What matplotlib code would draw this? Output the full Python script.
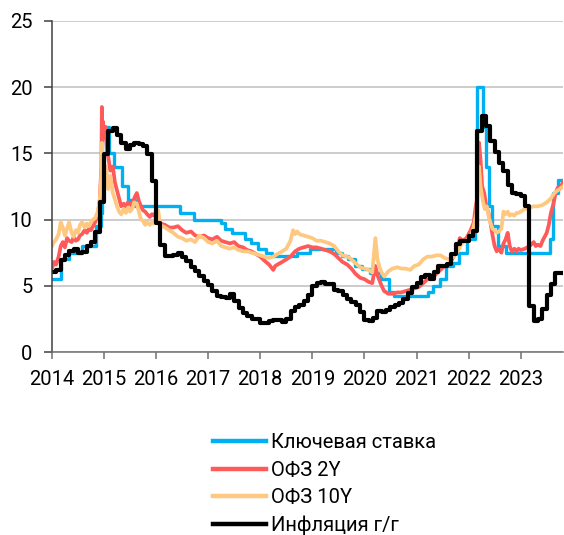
import numpy as np
import matplotlib
matplotlib.use("Agg")
import matplotlib.pyplot as plt

plt.rcParams['font.family'] = ['Roboto', 'DejaVu Sans']

# data (decimal years)
END = 2023.81

key_t = [2014.00, 2014.17, 2014.32, 2014.57, 2014.85, 2014.95, 2014.96, 2015.09, 2015.20,
         2015.34, 2015.46, 2015.59, 2016.45, 2016.72, 2017.24, 2017.33, 2017.46, 2017.71,
         2017.83, 2017.96, 2018.12, 2018.23, 2018.71, 2018.96, 2019.46, 2019.57, 2019.69,
         2019.82, 2019.96, 2020.11, 2020.32, 2020.47, 2020.57, 2021.22, 2021.32, 2021.45,
         2021.57, 2021.70, 2021.82, 2021.97, 2022.12, 2022.16, 2022.28, 2022.34, 2022.40,
         2022.45, 2022.57, 2022.72, 2023.56, 2023.62, 2023.72]
key_v = [5.5, 7.0, 7.5, 8.0, 9.5, 10.5, 17.0, 15.0, 14.0,
         12.5, 11.5, 11.0, 10.5, 10.0, 9.75, 9.25, 9.0, 8.5,
         8.25, 7.75, 7.5, 7.25, 7.5, 7.75, 7.5, 7.25, 7.0,
         6.5, 6.25, 6.0, 5.5, 4.5, 4.25, 4.5, 5.0, 5.5,
         6.5, 6.75, 7.5, 8.5, 9.5, 20.0, 17.0, 14.0, 11.0,
         9.5, 8.0, 7.5, 8.5, 12.0, 13.0]

ofz2_t = [2014.00, 2014.04, 2014.08, 2014.13, 2014.17, 2014.21, 2014.25, 2014.29, 2014.33,
          2014.38, 2014.42, 2014.46, 2014.50, 2014.54, 2014.58, 2014.63, 2014.67, 2014.71,
          2014.75, 2014.79, 2014.83, 2014.88, 2014.92, 2014.95, 2014.96, 2014.97, 2014.98,
          2015.00, 2015.03, 2015.06, 2015.08, 2015.12, 2015.17, 2015.21, 2015.25, 2015.29,
          2015.33, 2015.38, 2015.42, 2015.46, 2015.50, 2015.54, 2015.58, 2015.63, 2015.67,
          2015.71, 2015.75, 2015.79, 2015.83, 2015.88, 2015.92, 2015.96, 2016.00, 2016.04,
          2016.08, 2016.17, 2016.25, 2016.33, 2016.42, 2016.50, 2016.58, 2016.67, 2016.75,
          2016.83, 2016.92, 2017.00, 2017.08, 2017.17, 2017.25, 2017.33, 2017.42, 2017.50,
          2017.58, 2017.67, 2017.75, 2017.83, 2017.92, 2018.00, 2018.08, 2018.17, 2018.25,
          2018.29, 2018.33, 2018.42, 2018.50, 2018.58, 2018.67, 2018.75, 2018.83, 2018.92,
          2019.00, 2019.08, 2019.17, 2019.25, 2019.33, 2019.42, 2019.50, 2019.58, 2019.67,
          2019.75, 2019.83, 2019.92, 2020.00, 2020.08, 2020.15, 2020.21, 2020.25, 2020.33,
          2020.38, 2020.46, 2020.54, 2020.63, 2020.71, 2020.79, 2020.88, 2020.96, 2021.04,
          2021.13, 2021.21, 2021.29, 2021.38, 2021.46, 2021.54, 2021.63, 2021.71, 2021.79,
          2021.83, 2021.88, 2021.96, 2022.04, 2022.10, 2022.13, 2022.16, 2022.20, 2022.23,
          2022.26, 2022.30, 2022.34, 2022.38, 2022.42, 2022.46, 2022.50, 2022.54, 2022.58,
          2022.63, 2022.67, 2022.71, 2022.75, 2022.79, 2022.83, 2022.88, 2022.92, 2022.96,
          2023.00, 2023.08, 2023.17, 2023.25, 2023.29, 2023.33, 2023.38, 2023.42, 2023.50,
          2023.54, 2023.58, 2023.63, 2023.67, 2023.71, 2023.75, 2023.81]
ofz2_v = [6.3, 6.8, 6.6, 7.2, 8.0, 8.3, 7.9, 8.6, 8.4,
          8.3, 8.7, 8.4, 8.5, 8.8, 8.9, 9.2, 9.0, 9.3,
          9.2, 9.5, 9.8, 10.3, 11.5, 14.0, 18.5, 16.0, 17.4,
          16.5, 17.0, 15.0, 14.8, 13.7, 14.0, 12.8, 12.2, 11.6,
          11.0, 11.2, 10.9, 11.3, 11.2, 11.0, 11.6, 12.0, 11.4,
          11.0, 10.7, 10.6, 10.4, 10.2, 10.4, 10.3, 10.6, 10.2,
          9.7, 9.6, 9.4, 9.4, 9.5, 9.2, 9.0, 9.1, 8.8,
          8.7, 8.8, 8.6, 8.5, 8.7, 8.4, 8.3, 8.2, 8.3,
          8.0, 7.9, 7.7, 7.6, 7.4, 7.2, 6.9, 6.6, 6.2,
          6.5, 6.6, 6.8, 7.0, 7.2, 7.6, 7.8, 7.9, 8.0,
          7.9, 7.9, 7.8, 7.7, 7.6, 7.4, 7.1, 6.8, 6.6,
          6.3, 5.9, 5.6, 5.5, 5.3, 5.2, 6.5, 5.8, 5.0,
          4.6, 4.4, 4.4, 4.5, 4.5, 4.6, 4.7, 4.8, 4.9,
          5.2, 5.5, 5.5, 5.9, 6.2, 6.5, 6.6, 7.2, 7.7,
          8.6, 8.4, 8.6, 9.2, 9.8, 10.8, 11.5, 15.8, 14.5,
          12.5, 12.0, 11.0, 10.5, 9.8, 8.8, 8.0, 7.6, 7.8,
          7.5, 8.2, 8.5, 9.0, 8.0, 7.6, 7.8, 7.6, 7.8,
          7.7, 7.8, 8.0, 8.3, 8.0, 8.1, 8.0, 8.4, 9.0,
          9.6, 10.5, 11.2, 12.0, 12.4, 12.3, 12.8]

ofz10_t = [2014.00, 2014.04, 2014.08, 2014.13, 2014.17, 2014.21, 2014.25, 2014.29, 2014.33,
           2014.38, 2014.42, 2014.46, 2014.50, 2014.54, 2014.58, 2014.63, 2014.67, 2014.71,
           2014.75, 2014.79, 2014.83, 2014.88, 2014.92, 2014.95, 2014.96, 2014.98, 2015.00,
           2015.04, 2015.08, 2015.12, 2015.17, 2015.21, 2015.25, 2015.29, 2015.33, 2015.38,
           2015.42, 2015.46, 2015.50, 2015.54, 2015.58, 2015.63, 2015.67, 2015.71, 2015.75,
           2015.79, 2015.83, 2015.88, 2015.92, 2015.96, 2016.00, 2016.04, 2016.08, 2016.17,
           2016.25, 2016.33, 2016.42, 2016.50, 2016.58, 2016.67, 2016.75, 2016.83, 2016.92,
           2017.00, 2017.08, 2017.17, 2017.25, 2017.33, 2017.42, 2017.50, 2017.58, 2017.67,
           2017.75, 2017.83, 2017.92, 2018.00, 2018.08, 2018.17, 2018.25, 2018.33, 2018.42,
           2018.50, 2018.58, 2018.63, 2018.67, 2018.71, 2018.75, 2018.83, 2018.92, 2019.00,
           2019.08, 2019.17, 2019.25, 2019.33, 2019.42, 2019.50, 2019.58, 2019.67, 2019.75,
           2019.83, 2019.92, 2020.00, 2020.08, 2020.15, 2020.21, 2020.25, 2020.29, 2020.33,
           2020.38, 2020.46, 2020.54, 2020.63, 2020.71, 2020.79, 2020.88, 2020.96, 2021.04,
           2021.13, 2021.21, 2021.29, 2021.38, 2021.46, 2021.54, 2021.63, 2021.71, 2021.79,
           2021.88, 2021.96, 2022.04, 2022.10, 2022.15, 2022.20, 2022.23, 2022.27, 2022.31,
           2022.35, 2022.40, 2022.46, 2022.50, 2022.54, 2022.58, 2022.63, 2022.67, 2022.71,
           2022.75, 2022.79, 2022.83, 2022.88, 2022.92, 2022.96, 2023.00, 2023.08, 2023.17,
           2023.25, 2023.33, 2023.42, 2023.50, 2023.58, 2023.63, 2023.67, 2023.75, 2023.81]
ofz10_v = [8.0, 8.3, 8.5, 8.9, 9.8, 9.4, 8.8, 9.3, 9.8,
           9.0, 8.7, 9.2, 9.0, 9.6, 9.8, 9.4, 9.7, 9.5,
           9.8, 10.0, 10.1, 10.6, 11.5, 13.5, 15.8, 13.0, 12.5,
           14.0, 12.3, 13.3, 12.0, 11.5, 11.0, 10.6, 10.4, 10.8,
           10.5, 10.9, 10.6, 10.8, 11.3, 11.2, 10.6, 10.0, 9.9,
           9.6, 9.8, 9.6, 9.8, 9.7, 10.2, 10.7, 9.6, 9.4,
           9.2, 9.0, 8.7, 8.6, 8.4, 8.5, 8.3, 8.8, 8.6,
           8.3, 8.2, 8.4, 8.0, 7.9, 7.8, 7.9, 7.7, 7.6,
           7.6, 7.5, 7.4, 7.3, 7.2, 7.1, 7.2, 7.4, 7.6,
           7.8, 8.4, 9.2, 8.9, 9.1, 8.9, 8.8, 8.7, 8.6,
           8.4, 8.4, 8.3, 8.2, 8.0, 7.6, 7.3, 7.2, 7.0,
           6.7, 6.4, 6.3, 6.2, 6.0, 8.6, 7.0, 6.4, 6.0,
           5.7, 6.1, 6.3, 6.4, 6.3, 6.3, 6.2, 6.5, 6.6,
           7.0, 7.2, 7.2, 7.3, 7.3, 7.1, 7.0, 7.2, 7.6,
           8.3, 8.4, 8.7, 9.5, 10.5, 14.0, 12.5, 11.5, 10.8,
           11.0, 10.0, 9.3, 9.2, 9.0, 9.1, 9.3, 10.6, 10.4,
           10.6, 10.3, 10.4, 10.3, 10.5, 10.5, 10.6, 10.8, 10.9,
           11.0, 11.0, 11.1, 11.3, 11.6, 11.9, 12.1, 12.3, 12.5]

# CPI y/y, monthly Jan 2014 .. Sep 2023
infl_v = [6.05, 6.19, 6.92, 7.33, 7.59, 7.81, 7.45, 7.55, 8.03, 8.29, 9.06, 11.36,
          14.97, 16.71, 16.93, 16.42, 15.78, 15.29, 15.64, 15.77, 15.68, 15.59, 14.98, 12.91,
          9.77, 8.06, 7.27, 7.25, 7.31, 7.48, 7.21, 6.86, 6.43, 6.09, 5.75, 5.38,
          5.04, 4.59, 4.25, 4.12, 4.09, 4.35, 3.86, 3.29, 2.96, 2.72, 2.50, 2.52,
          2.21, 2.20, 2.36, 2.41, 2.42, 2.30, 2.51, 3.07, 3.39, 3.55, 3.83, 4.27,
          5.00, 5.24, 5.27, 5.17, 5.13, 4.66, 4.59, 4.31, 3.99, 3.75, 3.54, 3.05,
          2.42, 2.31, 2.54, 3.10, 3.03, 3.21, 3.37, 3.58, 3.67, 3.99, 4.42, 4.91,
          5.19, 5.67, 5.79, 5.53, 6.02, 6.50, 6.46, 6.68, 7.41, 8.13, 8.40, 8.39,
          8.73, 9.15, 16.69, 17.83, 17.10, 15.90, 15.10, 14.30, 13.68, 12.63, 11.98, 11.94,
          11.77, 10.99, 3.51, 2.31, 2.51, 3.25, 4.30, 5.15, 6.00]
infl_t = 2014 + np.arange(len(infl_v)) / 12.0

labels = ['Ключевая ставка', 'ОФЗ 2Y', 'ОФЗ 10Y', 'Инфляция г/г']
colors = ['#00B0F0', '#FF5A5A', '#FFC880', '#000000']

fig = plt.figure(figsize=(5.64, 5.35), dpi=100)
ax = fig.add_axes([0.092, 0.342, 0.906, 0.619])

ax.plot(np.append(key_t, END), np.append(key_v, key_v[-1]), drawstyle='steps-post',
        color=colors[0], lw=2.4, label=labels[0])
ax.plot(ofz2_t, ofz2_v, color=colors[1], lw=2.7, label=labels[1])
ax.plot(ofz10_t, ofz10_v, color=colors[2], lw=2.7, label=labels[2])
ax.plot(np.append(infl_t, END), np.append(infl_v, infl_v[-1]), drawstyle='steps-post',
        color=colors[3], lw=3.0, label=labels[3])

ax.set_xlim(2014, END)
ax.set_ylim(0, 25)
ax.set_yticks([0, 5, 10, 15, 20, 25])
ax.set_xticks(range(2014, 2024))
ax.set_xticklabels([str(y) for y in range(2014, 2024)])
ax.grid(axis='y', color='#BFBFBF', lw=1.1)
ax.set_axisbelow(True)
for s in ['top', 'right']:
    ax.spines[s].set_visible(False)
ax.spines['left'].set_color('#404040')
ax.spines['bottom'].set_color('#707070')
ax.spines['left'].set_linewidth(1.1)
ax.spines['bottom'].set_linewidth(1.1)
ax.tick_params(axis='y', length=6, width=1.1, color='#404040', pad=8, labelsize=14.5)
ax.tick_params(axis='x', length=5, width=1.1, color='#707070', pad=8, labelsize=14.5)

fig.legend(loc='upper left', bbox_to_anchor=(0.378, 0.19), frameon=False, fontsize=14.5,
           handlelength=2.6, handletextpad=0.25, labelspacing=0.42, borderpad=0, borderaxespad=0)
for h in fig.legends[0].get_lines():
    h.set_linewidth(3.2)

fig.savefig('out.png', dpi=100)
